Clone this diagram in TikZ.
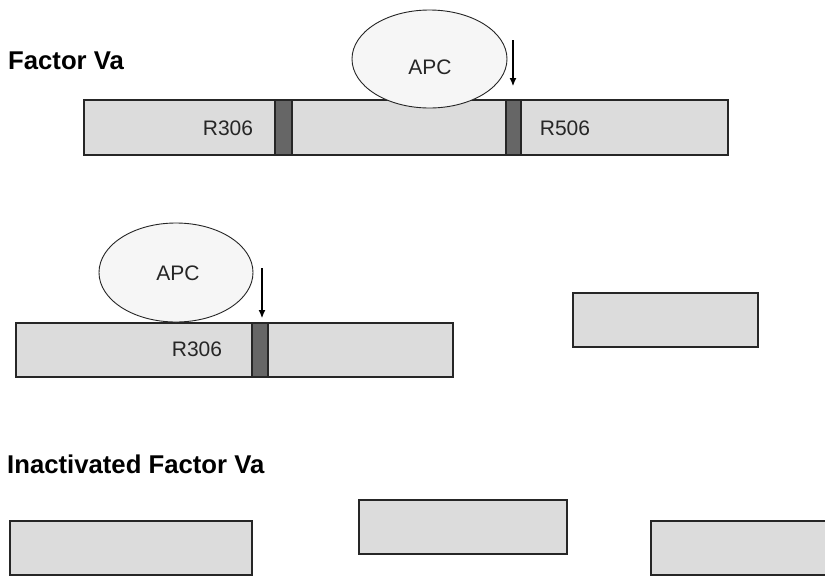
\documentclass[tikz,border=0pt]{standalone}
\usepackage{fontspec}
\setmainfont{Liberation Sans}
\usetikzlibrary{shapes.geometric,arrows.meta}
\definecolor{barfill}{HTML}{DCDCDC}
\definecolor{bandfill}{HTML}{666666}
\definecolor{apcfill}{HTML}{F6F6F6}
\definecolor{edge}{HTML}{262626}
\tikzset{
  bar/.style={rectangle, draw=edge, line width=1.6pt, fill=barfill, inner sep=0pt},
  band/.style={rectangle, draw=edge, line width=1.2pt, fill=bandfill, inner sep=0pt, minimum width=#1},
  apc/.style={ellipse, draw=edge, line width=0.9pt, fill=apcfill, inner sep=0pt, minimum width=155pt, minimum height=98pt},
  lbl/.style={anchor=base, inner sep=0pt, font=\fontsize{21}{21}\selectfont, text=black!85},
  ttl/.style={anchor=base west, inner sep=0pt, font=\bfseries\fontsize{25.7}{25.7}\selectfont},
  cut/.style={draw=black, line width=1.1pt, -{Latex[length=8pt,width=7pt]}}
}
\begin{document}
\begin{tikzpicture}[x=1pt,y=-1pt]
\useasboundingbox (0,0) rectangle (825,576);
\clip (0,0) rectangle (825,576);
\fill[white] (0,0) rectangle (825,576);

% Row 1: Factor Va
\node[ttl] (t1) at (8,69) {Factor Va};
\node[bar, minimum width=644pt, minimum height=55pt] (bar1) at (406,127.5) {};
\node[band=17pt, minimum height=55pt] (b1a) at (283.5,127.5) {};
\node[band=15pt, minimum height=55pt] (b1b) at (513.5,127.5) {};
\node[apc] (apc1) at (429.5,59) {};
\node[lbl] (apct1) at (430,74) {APC};
\node[lbl] (r306a) at (228,135) {R306};
\node[lbl] (r506) at (565,135) {R506};
\coordinate (c1s) at (513,40);
\coordinate (c1e) at (513,86);
\draw[cut] (c1s) -- (c1e);

% Row 2
\node[bar, minimum width=437pt, minimum height=54pt] (bar2) at (234.5,350) {};
\node[band=16pt, minimum height=54pt] (b2) at (260,350) {};
\node[apc, minimum width=154pt, minimum height=99pt] (apc2) at (176,272.5) {};
\node[lbl] (apct2) at (178,280) {APC};
\node[lbl] (r306b) at (197,356) {R306};
\coordinate (c2s) at (262,268);
\coordinate (c2e) at (262,318);
\draw[cut] (c2s) -- (c2e);
\node[bar, minimum width=185pt, minimum height=54pt] (frag) at (665.5,320) {};

% Row 3: Inactivated Factor Va
\node[ttl] (t2) at (7,473) {Inactivated Factor Va};
\node[bar, minimum width=242pt, minimum height=54pt] (f1) at (131,548) {};
\node[bar, minimum width=208pt, minimum height=54pt] (f2) at (463,527) {};
\node[bar, minimum width=200pt, minimum height=54pt] (f3) at (751,548) {};
\end{tikzpicture}
\end{document}
